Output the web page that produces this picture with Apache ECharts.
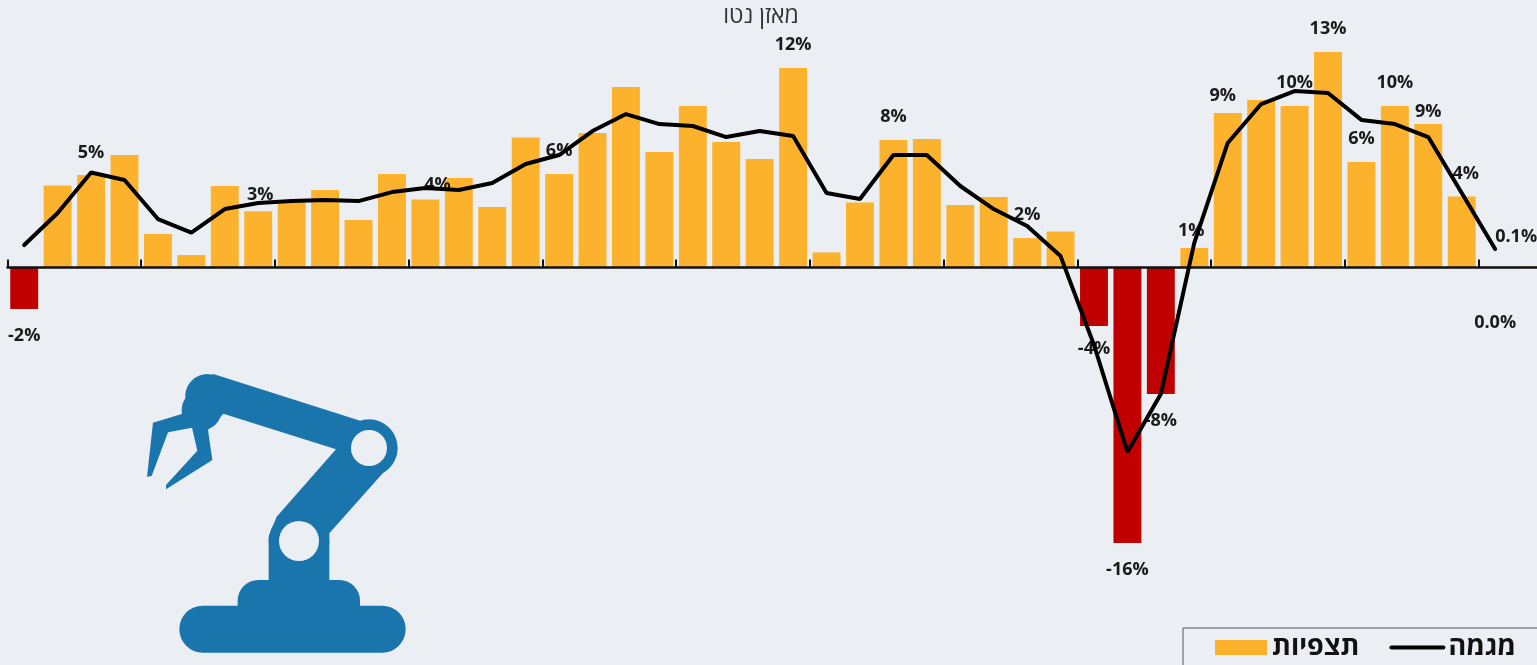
<!DOCTYPE html>
<html>
<head>
<meta charset="utf-8">
<title>מאזן נטו</title>
<style>
    html,body{margin:0;padding:0;background:#EBEEF2;overflow:hidden;}
    /* wider than the window: last bar runs off the right edge */
    #chart{width:1546px;height:665px;}
</style>
<script src="https://cdn.jsdelivr.net/npm/echarts@6/dist/echarts.min.js"></script>
</head>
<body>
<div id="chart"></div>
<script>
var barName='תצפיות';
var lineName='מגמה';
var titleText='מאזן נטו';
//observations, percent
var barValues=[-2.4,4.74,5.35,6.5,1.94,0.72,4.71,3.25,3.8,4.48,2.75,5.4,3.93,5.17,3.5,7.51,5.4,7.77,10.43,6.68,9.34,7.25,6.27,11.53,0.87,3.76,7.37,7.43,3.61,4.08,1.7,2.08,-3.38,-15.92,-7.31,1.13,8.93,9.68,9.34,12.46,6.1,9.34,8.29,4.1,0,0.05];
//trend, percent
var lineValues=[1.3,3.15,5.49,5.06,2.8,2.02,3.38,3.73,3.84,3.9,3.84,4.36,4.6,4.48,4.88,5.98,6.5,7.89,8.87,8.29,8.18,7.54,7.89,7.6,4.31,3.96,6.5,6.5,4.71,3.38,2.4,0.66,-4.48,-10.66,-7.31,1.42,7.2,9.45,10.2,10.09,8.53,8.29,7.54,4.31,1.07,null];
var barLabels={0:'-2%',2:'5%',7:'3%',12:'4%',16:'6%',23:'12%',26:'8%',30:'2%',32:'-4%',33:'-16%',34:'-8%',35:'1%',36:'9%',38:'10%',39:'13%',40:'6%',41:'10%',42:'9%',43:'4%',44:'0.0%'};
var lineLabels={44:'0.1%'};
var categories=barValues.map(function(v,i){return String(i+1);});

var fontName='"Open Sans","Noto Sans",sans-serif';
var orange='#FDB22D';
var red='#C00000';
var bg='#EBEEF2';
var robotBlue='#1B75AD';
//hand nudges for labels that don't sit right over their bar
var labelNudge={2:[0,1],7:[2,7],12:[12,8],32:[0,-4],35:[-3,6],36:[-5,6],42:[0,11],43:[4,0],44:[0,28]};

function barItem(v,i){
    var item={value:v,itemStyle:{color:v<0?red:orange}};
    if(barLabels[i]){
        item.label={
            show:true,
            formatter:barLabels[i],
            position:(v<=0)?'bottom':'top',
            distance:(v<=0)?18:14,
            offset:labelNudge[i]||[0,0]
        };
    }
    return item;
}
function lineItem(v,i){
    var item={value:v};
    if(lineLabels[i]){
        item.label={show:true,formatter:lineLabels[i],position:'top',distance:3,offset:[21,0]};
    }
    return item;
}

var option={
    animation:false,
    backgroundColor:bg,
    title:{
        text:titleText,
        left:756,
        top:0,
        textAlign:'center',
        textStyle:{fontFamily:fontName,fontSize:23,fontWeight:'normal',color:'#333'}
    },
    grid:{left:7.5,top:8,width:1537.8,height:605.5},
    legend:{
        left:1183,
        top:628,
        padding:[6,22,6,32],
        borderColor:'#555',
        borderWidth:1,
        itemGap:30,
        itemWidth:52,
        itemHeight:15,
        data:[
            {name:barName,icon:'rect'},
            //line series draws a dot in its legend key, hide it
            {name:lineName,itemStyle:{color:'transparent',borderWidth:0},lineStyle:{color:'#000',width:4}}
        ],
        textStyle:{fontFamily:fontName,fontSize:27,fontWeight:'bold',color:'#111'}
    },
    xAxis:{
        type:'category',
        data:categories,
        z:3,
        axisLine:{lineStyle:{color:'#111',width:2.5}},
        axisTick:{show:true,inside:true,interval:3,length:8,lineStyle:{color:'#111',width:2}},
        axisLabel:{show:false}
    },
    yAxis:{
        type:'value',
        min:-20,
        max:15,
        show:false,
        splitLine:{show:false}
    },
    series:[
        {
            name:barName,
            type:'bar',
            barCategoryGap:'16.5%',
            itemStyle:{color:orange},
            label:{fontFamily:fontName,fontSize:18,fontWeight:'bold',color:'#1a1a1a'},
            data:barValues.map(barItem)
        },
        {
            name:lineName,
            type:'line',
            symbol:'circle',
            symbolSize:0,
            showSymbol:true,
            lineStyle:{color:'#000',width:4,cap:'round'},
            itemStyle:{color:'#000'},
            label:{fontFamily:fontName,fontSize:18,fontWeight:'bold',color:'#1a1a1a'},
            data:lineValues.map(lineItem)
        }
    ],
    //robot arm picture, drawn in a 3x box
    graphic:[{
        type:'group',
        x:130,
        y:360,
        scaleX:1/3,
        scaleY:1/3,
        children:[
            {type:'rect',shape:{x:148,y:737,width:679,height:141,r:70},style:{fill:robotBlue}},
            {type:'rect',shape:{x:323,y:660,width:367,height:130,r:[62,62,0,0]},style:{fill:robotBlue}},
            {type:'polygon',shape:{points:[[416,670],[416,530],[440,470],[618,268],[280,161],[234,210],[247,300],[108,388],[108,375],[202,272],[186,203],[114,217],[65,348],[51,350],[69,188],[155,162],[186,97],[250,42],[700,185],[785,310],[598,520],[598,670]]},style:{fill:robotBlue}},
            {type:'circle',shape:{cx:717,cy:264,r:86},style:{fill:robotBlue}},
            {type:'circle',shape:{cx:507,cy:543,r:91},style:{fill:robotBlue}},
            {type:'circle',shape:{cx:232,cy:108,r:66},style:{fill:robotBlue}},
            {type:'circle',shape:{cx:215,cy:150,r:60},style:{fill:robotBlue}},
            {type:'circle',shape:{cx:717,cy:264,r:54},style:{fill:bg}},
            {type:'circle',shape:{cx:507,cy:543,r:60},style:{fill:bg}}
        ]
    }]
};

var chart=echarts.init(document.getElementById('chart'));
chart.setOption(option);
</script>
</body>
</html>
